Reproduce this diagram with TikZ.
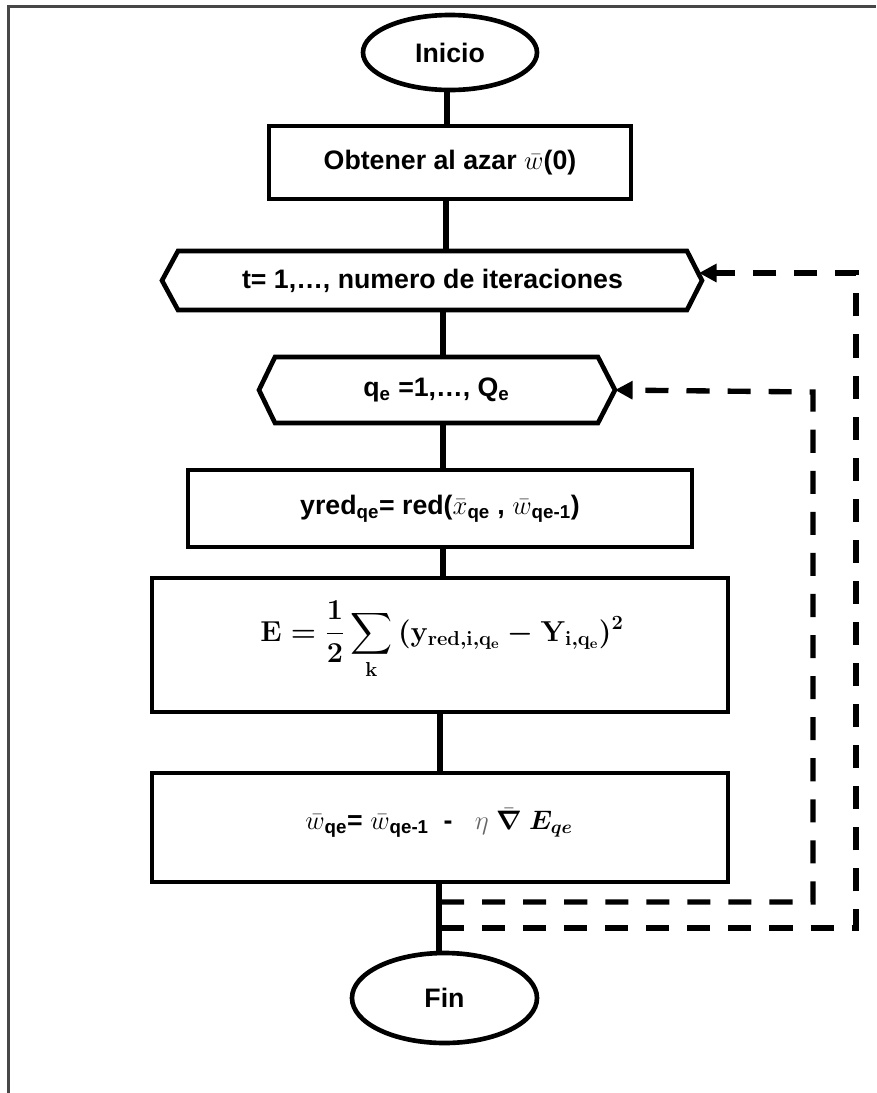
\RequirePackage{fix-cm}
\documentclass[tikz,border=0pt]{standalone}
\usepackage{amsmath,bm}
\usepackage[no-math]{fontspec}
\setmainfont{Liberation Sans}
\usetikzlibrary{shapes.geometric,arrows.meta,calc}
\begin{document}
\begin{tikzpicture}[x=0.025cm,y=-0.025cm,
  every node/.style={font=\fontsize{19}{23}\selectfont\bfseries, inner sep=0pt, outer sep=0pt},
  term/.style={draw, ellipse, line width=3.3pt},
  box/.style={draw, rectangle, line width=3.3pt},
  hexin/.style={rectangle},
  hexline/.style={line width=3.3pt, line join=miter},
  flow/.style={line width=3.6pt},
  loopline/.style={line width=3.8pt, dash pattern=on 16.4pt off 12.8pt, -{Triangle[length=12.5pt,width=12.5pt]}},
  frame/.style={draw=black!72, line width=1.5pt}
]
\useasboundingbox (0,0) rectangle (876,1093);
\draw[frame] (8.5,1093) -- (8.5,6.5) -- (876,6.5);

% nodes
\node[term, minimum width=174*0.025cm, minimum height=75*0.025cm] (inicio) at (450,52.5) {Inicio};
\node[box, minimum width=362*0.025cm, minimum height=73*0.025cm] (obt) at (450,162.5) {Obtener al azar $\bar{w}$(0)};

\node[hexin, minimum width=509*0.025cm, minimum height=59*0.025cm] (h1) at (432.5,280.5) {t= 1,…, numero de iteraciones};
\coordinate (h1w) at ($(h1.west)+(-16,0)$);
\coordinate (h1e) at ($(h1.east)+(15,0)$);
\draw[hexline] (h1.north west) -- (h1.north east) -- (h1e) -- (h1.south east) -- (h1.south west) -- (h1w) -- cycle;

\node[hexin, minimum width=323*0.025cm, minimum height=66*0.025cm] (h2) at (436.5,390) {q\textsubscript{e} =1,…, Q\textsubscript{e}};
\coordinate (h2w) at ($(h2.west)+(-16,0)$);
\coordinate (h2e) at ($(h2.east)+(17,0)$);
\draw[hexline] (h2.north west) -- (h2.north east) -- (h2e) -- (h2.south east) -- (h2.south west) -- (h2w) -- cycle;

\node[box, minimum width=504*0.025cm, minimum height=77*0.025cm] (yred) at (440,508.5)
  {yred\textsubscript{qe}= red($\bar{x}$\textsubscript{qe} , $\bar{w}$\textsubscript{qe-1})};

\node[box, minimum width=576*0.025cm, minimum height=134*0.025cm] (err) at (440,645) {};
\node[font=\fontsize{20.5}{24}\selectfont\boldmath] (errtxt) at (442,640)
  {$\displaystyle \mathbf{E}=\frac{\mathbf{1}}{\mathbf{2}}\sum_{\mathbf{k}}\,(\mathbf{y}_{\mathbf{red,i,q_e}}-\mathbf{Y}_{\mathbf{i,q_e}})^{\mathbf{2}}$};

\node[box, minimum width=576*0.025cm, minimum height=109*0.025cm] (upd) at (440,827.5) {};
\node (updtxt) at (439,823)
  {$\bar{w}$\textsubscript{qe}= $\bar{w}$\textsubscript{qe-1} \ - \ \ $\color{black!60}\eta\;\color{black}\bar{\bm{\nabla}}\;\bm{E}_{\bm{qe}}$};

\node[term, minimum width=185*0.025cm, minimum height=90*0.025cm] (fin) at (444.5,998) {Fin};

% trunk
\coordinate (c1) at (447,0);
\coordinate (c2) at (446,0);
\coordinate (c3) at (443,0);
\coordinate (c4) at (440,0);
\coordinate (c5) at (439,0);
\draw[flow] (inicio.south -| c1) -- (obt.north -| c1);
\draw[flow] (obt.south -| c2) -- (h1.north -| c2);
\draw[flow] (h1.south -| c3) -- (h2.north -| c3);
\draw[flow] (h2.south -| c3) -- (yred.north -| c3);
\draw[flow] (yred.south -| c3) -- (err.north -| c3);
\draw[flow] (err.south -| c4) -- (upd.north -| c4);
\draw[flow] (upd.south -| c5) -- (fin.north -| c5);

% loops
\coordinate (din) at (441,902);
\coordinate (dout) at (441,928);
\coordinate (h1in) at (699,273);
\draw[loopline] (din) -- (813,902) -- (813,392) -- (h2e);
\draw[loopline] (dout) -- (856,928) -- (856,273) -- (h1in);
\end{tikzpicture}
\end{document}
